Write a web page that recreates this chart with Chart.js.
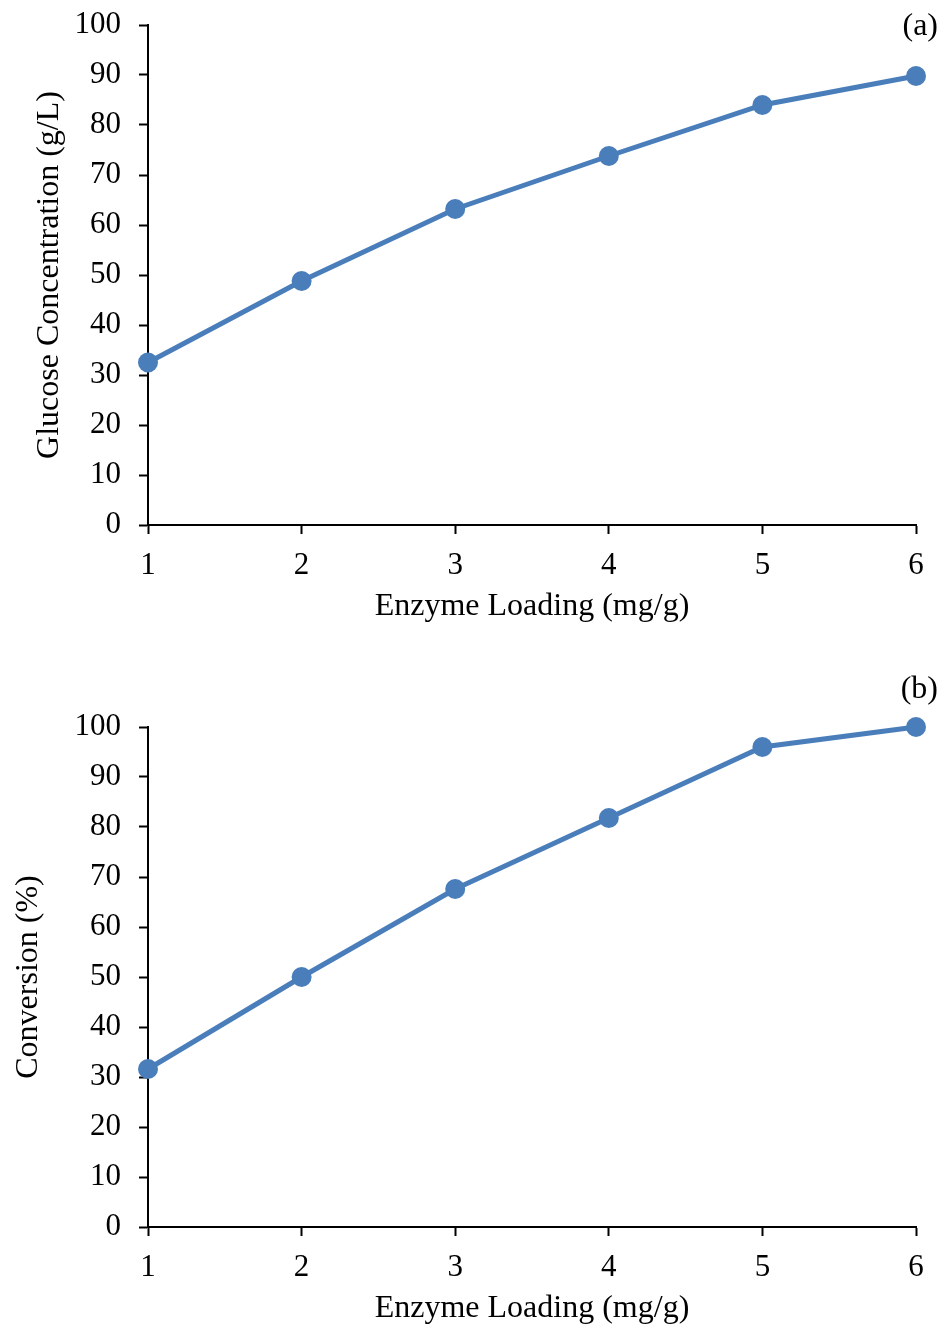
<!DOCTYPE html>
<html>
<head>
<meta charset="utf-8">
<script src="https://cdn.jsdelivr.net/npm/chart.js@4.4.0/dist/chart.umd.min.js"></script>
<style>
  html, body { margin: 0; padding: 0; background: #fff; overflow: hidden; }
  .box { position: absolute; left: 0; width: 943px; height: 684px; }
  #boxA { top: -52px; }
  #boxB { top: 650px; }
</style>
</head>
<body>
<div class="box" id="boxA"><canvas id="chartA"></canvas></div>
<div class="box" id="boxB"><canvas id="chartB"></canvas></div>
<script>
// Datos: carga de enzima frente a glucosa y conversión
const enzymeLoading = ['1', '2', '3', '4', '5', '6'];
const glucoseConc = [32.5, 48.8, 63.2, 73.8, 84.0, 89.8];
const conversion = [31.6, 50.0, 67.6, 81.8, 96.0, 100.0];
const yTicks = [0, 10, 20, 30, 40, 50, 60, 70, 80, 90, 100];

const SERIF = '"Liberation Serif", "Times New Roman", serif';
const AZUL = '#4a7ebb';

// Pinta la etiqueta (a)/(b) en la esquina superior derecha
const panelLabel = {
    id: 'panelLabel',
    afterDraw(chart, args, opts) {
        const ctx = chart.ctx;
        ctx.save();
        ctx.font = '32px ' + SERIF;
        ctx.fillStyle = '#000';
        ctx.textAlign = 'right';
        ctx.textBaseline = 'middle';
        ctx.fillText(opts.text, opts.x, opts.y);
        ctx.restore();
    }
};

function makeChart(id, values, yTitle, label, padLeft, labelY) {
    const ctx = document.getElementById(id).getContext('2d');
    return new Chart(ctx, {
        type: 'line',
        data: {
            labels: enzymeLoading,
            datasets: [{
                data: values,
                borderColor: AZUL,
                backgroundColor: AZUL,
                borderWidth: 5,
                pointRadius: 10,
                pointHoverRadius: 10,
                pointBorderWidth: 0,
                tension: 0,
                clip: false
            }]
        },
        options: {
            responsive: true,
            maintainAspectRatio: false,
            animation: false,
            events: [],
            layout: { padding: { left: padLeft, top: 77, right: 27, bottom: 0 } },
            plugins: {
                legend: { display: false },
                tooltip: { enabled: false },
                panelLabel: { text: label, x: 938, y: labelY }
            },
            scales: {
                x: {
                    type: 'category',
                    offset: false,
                    afterFit: s => { s.height = 107; },
                    grid: {
                        display: true,
                        drawOnChartArea: false,
                        drawTicks: true,
                        tickLength: 9,
                        tickColor: '#000',
                        tickWidth: 2
                    },
                    border: { display: true, color: '#000', width: 2 },
                    ticks: {
                        color: '#000',
                        padding: 13,
                        maxRotation: 0,
                        font: { family: SERIF, size: 31 }
                    },
                    title: {
                        display: true,
                        text: 'Enzyme Loading (mg/g)',
                        color: '#000',
                        padding: { top: 0, bottom: 6 },
                        font: { family: SERIF, size: 32 }
                    }
                },
                y: {
                    min: 0,
                    max: 100,
                    afterFit: s => { s.width = 148 - padLeft; },
                    afterBuildTicks: s => { s.ticks = yTicks.map(v => ({ value: v })); },
                    grid: {
                        display: true,
                        drawOnChartArea: false,
                        drawTicks: true,
                        tickLength: 9,
                        tickColor: '#000',
                        tickWidth: 2
                    },
                    border: { display: true, color: '#000', width: 2 },
                    ticks: {
                        color: '#000',
                        padding: 18,
                        font: { family: SERIF, size: 31 }
                    },
                    title: {
                        display: true,
                        text: yTitle,
                        color: '#000',
                        padding: 0,
                        font: { family: SERIF, size: 32 }
                    }
                }
            }
        },
        plugins: [panelLabel]
    });
}

// (a) glucosa, (b) conversión
makeChart('chartA', glucoseConc, 'Glucose Concentration (g/L)', '(a)', 30, 79);
makeChart('chartB', conversion, 'Conversion (%)', '(b)', 9, 40);
</script>
</body>
</html>
